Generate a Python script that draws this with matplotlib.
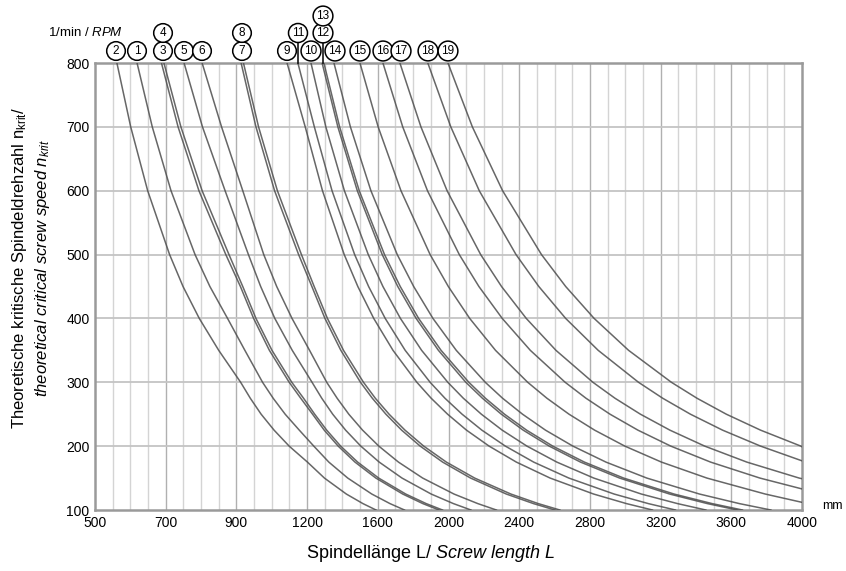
import numpy as np
import matplotlib
matplotlib.use('Agg')
from matplotlib import pyplot as plt

plt.rcParams['font.family'] = ['Liberation Sans', 'DejaVu Sans']
plt.rcParams['mathtext.fontset'] = 'custom'
plt.rcParams['mathtext.rm'] = 'Liberation Sans'
plt.rcParams['mathtext.it'] = 'Liberation Sans:italic'

## x axis tick labels (axis is stretched piecewise between them)
x_ticks = [500, 700, 900, 1200, 1600, 2000, 2400, 2800, 3200, 3600, 4000]
y_ticks = [100, 200, 300, 400, 500, 600, 700, 800]

levels = [800, 700, 600, 500, 450, 400, 350, 300, 275, 250, 225, 200, 175, 150, 125, 110, 100]

## screw length L (mm) where each curve crosses the levels above
crossings = {
    '2':  [562, 601, 649, 711, 749, 795, 850, 918, 959, 1005, 1060, 1124, 1202, 1298, 1422, 1516, 1590],
    '1':  [619, 662, 715, 783, 825, 875, 936, 1011, 1056, 1107, 1167, 1238, 1323, 1430, 1566, 1669, 1751],
    '3':  [688, 735, 794, 870, 917, 973, 1040, 1124, 1173, 1231, 1297, 1376, 1471, 1589, 1741, 1855, 1946],
    '4':  [695, 743, 803, 879, 927, 983, 1051, 1135, 1185, 1243, 1311, 1390, 1486, 1605, 1758, 1874, 1966],
    '5':  [752, 804, 868, 951, 1003, 1063, 1137, 1228, 1283, 1345, 1418, 1504, 1608, 1737, 1902, 2028, 2127],
    '6':  [803, 858, 927, 1016, 1071, 1136, 1214, 1311, 1370, 1436, 1514, 1606, 1717, 1854, 2031, 2166, 2271],
    '7':  [920, 983, 1062, 1164, 1227, 1301, 1391, 1502, 1569, 1646, 1735, 1840, 1967, 2125, 2327, 2481, 2602],
    '8':  [930, 994, 1074, 1176, 1240, 1315, 1406, 1519, 1586, 1664, 1754, 1860, 1988, 2148, 2353, 2508, 2630],
    '9':  [1115, 1192, 1287, 1410, 1487, 1577, 1686, 1821, 1902, 1995, 2102, 2230, 2384, 2575, 2821, 3007, 3154],
    '11': [1161, 1241, 1341, 1469, 1548, 1642, 1755, 1896, 1980, 2077, 2189, 2322, 2482, 2681, 2937, 3131, 3284],
    '10': [1222, 1306, 1411, 1546, 1629, 1728, 1848, 1996, 2084, 2186, 2304, 2444, 2613, 2822, 3091, 3296, 3456],
    '12': [1285, 1374, 1484, 1625, 1713, 1817, 1943, 2098, 2192, 2299, 2423, 2570, 2747, 2968, 3251, 3465, 3634],
    '13': [1295, 1384, 1495, 1638, 1727, 1831, 1958, 2115, 2209, 2317, 2442, 2590, 2769, 2991, 3276, 3492, 3663],
    '14': [1352, 1445, 1561, 1710, 1803, 1912, 2044, 2208, 2306, 2419, 2549, 2704, 2891, 3122, 3420, 3646, 3824],
    '15': [1499, 1602, 1731, 1896, 1999, 2120, 2266, 2448, 2557, 2682, 2827, 2998, 3205, 3462, 3792, None, None],
    '16': [1629, 1741, 1881, 2061, 2172, 2304, 2463, 2660, 2778, 2914, 3072, 3258, 3483, 3762, None, None, None],
    '17': [1725, 1844, 1992, 2182, 2300, 2440, 2608, 2817, 2942, 3086, 3253, 3450, 3688, 3984, None, None, None],
    '18': [1883, 2013, 2174, 2382, 2511, 2663, 2847, 3075, 3212, 3369, 3551, 3766, None, None, None, None, None],
    '19': [1997, 2135, 2306, 2526, 2663, 2824, 3019, 3261, 3406, 3572, 3766, 3994, None, None, None, None, None],
}

## speed at the right edge (L = 4000) for curves that get there
edge_speed = {'15': 112, '16': 133, '17': 149, '18': 177, '19': 199}

## circled labels above the chart: (label, x px, row)
tags = [('2', 116, 0), ('1', 137, 0), ('3', 163, 0), ('4', 163, 1),
        ('5', 184, 0), ('6', 202, 0), ('7', 242, 0), ('8', 242, 1),
        ('9', 287, 0), ('11', 298, 1), ('10', 311, 0), ('12', 323, 1),
        ('13', 323, 2), ('14', 335, 0), ('15', 360, 0), ('16', 383, 0),
        ('17', 401, 0), ('18', 428, 0), ('19', 448, 0)]

W, H = 846, 571
fig = plt.figure(figsize=(W / 100, H / 100), dpi=100)
ax = fig.add_axes([95 / W, 1 - 510 / H, 707 / W, 447 / H])

pos = np.arange(len(x_ticks), dtype=float)
fwd = lambda v: np.interp(v, x_ticks, pos)
inv = lambda p: np.interp(p, pos, x_ticks)
ax.set_xscale('function', functions=(fwd, inv))
ax.set_xlim(500, 4000)
ax.set_ylim(100, 800)

## grid: vertical lines every quarter of a label step
for p in np.arange(0.25, len(x_ticks) - 1, 0.25):
    c = '#b0b0b0' if p % 1 == 0 else '#d4d4d4'
    ax.axvline(inv(p), color=c, lw=1.0, zorder=1)
for v in y_ticks[1:-1]:
    ax.axhline(v, color='#c4c4c4', lw=1.3, zorder=1)

for name, Ls in crossings.items():
    xs = [L for L in Ls if L is not None]
    ys = [n for L, n in zip(Ls, levels) if L is not None]
    if name in edge_speed:
        xs.append(4000)
        ys.append(edge_speed[name])
    ax.plot(xs, ys, color='#4c4c4c', lw=1.1, alpha=0.85, zorder=3)

ax.set_xticks(x_ticks)
ax.set_xticklabels([str(t) for t in x_ticks], fontsize=10)
ax.set_yticks(y_ticks)
ax.set_yticklabels([str(t) for t in y_ticks], fontsize=10)
ax.tick_params(length=0, pad=4)
ax.minorticks_off()
for s in ax.spines.values():
    s.set_color('#9a9a9a')
    s.set_linewidth(1.8)

## axis titles
fig.text(20 / W, 1 - 268 / H, 'Theoretische kritische Spindeldrehzahl n$_{\\mathrm{krit}}$/',
         rotation=90, ha='center', va='center', fontsize=12)
fig.text(42 / W, 1 - 268 / H, 'theoretical critical screw speed $n_{krit}$',
         rotation=90, ha='center', va='center', fontsize=12, style='italic')
fig.text(430 / W, 1 - 553 / H, 'Spindellänge L/ $\\mathit{Screw\\ length\\ L}$',
         ha='center', va='center', fontsize=13)
fig.text(48 / W, 1 - 33 / H, '1/min / $\\mathit{RPM}$', ha='left', va='center', fontsize=9.5)
fig.text(822 / W, 1 - 506 / H, 'mm', ha='left', va='center', fontsize=9)

row_y = [51, 33, 16]
for name, x, row in tags:
    fig.text(x / W, 1 - row_y[row] / H, name, ha='center', va='center', fontsize=8.5,
             bbox=dict(boxstyle='circle,pad=0.28', fc='white', ec='black', lw=1.1))

## pointer lines for 11 and 12
fig.add_artist(plt.Line2D([298 / W, 298 / W], [1 - 42 / H, 1 - 63 / H], color='black', lw=1.1))
fig.add_artist(plt.Line2D([323 / W, 323 / W], [1 - 42 / H, 1 - 63 / H], color='black', lw=1.1))

fig.savefig('out.png', dpi=100)
